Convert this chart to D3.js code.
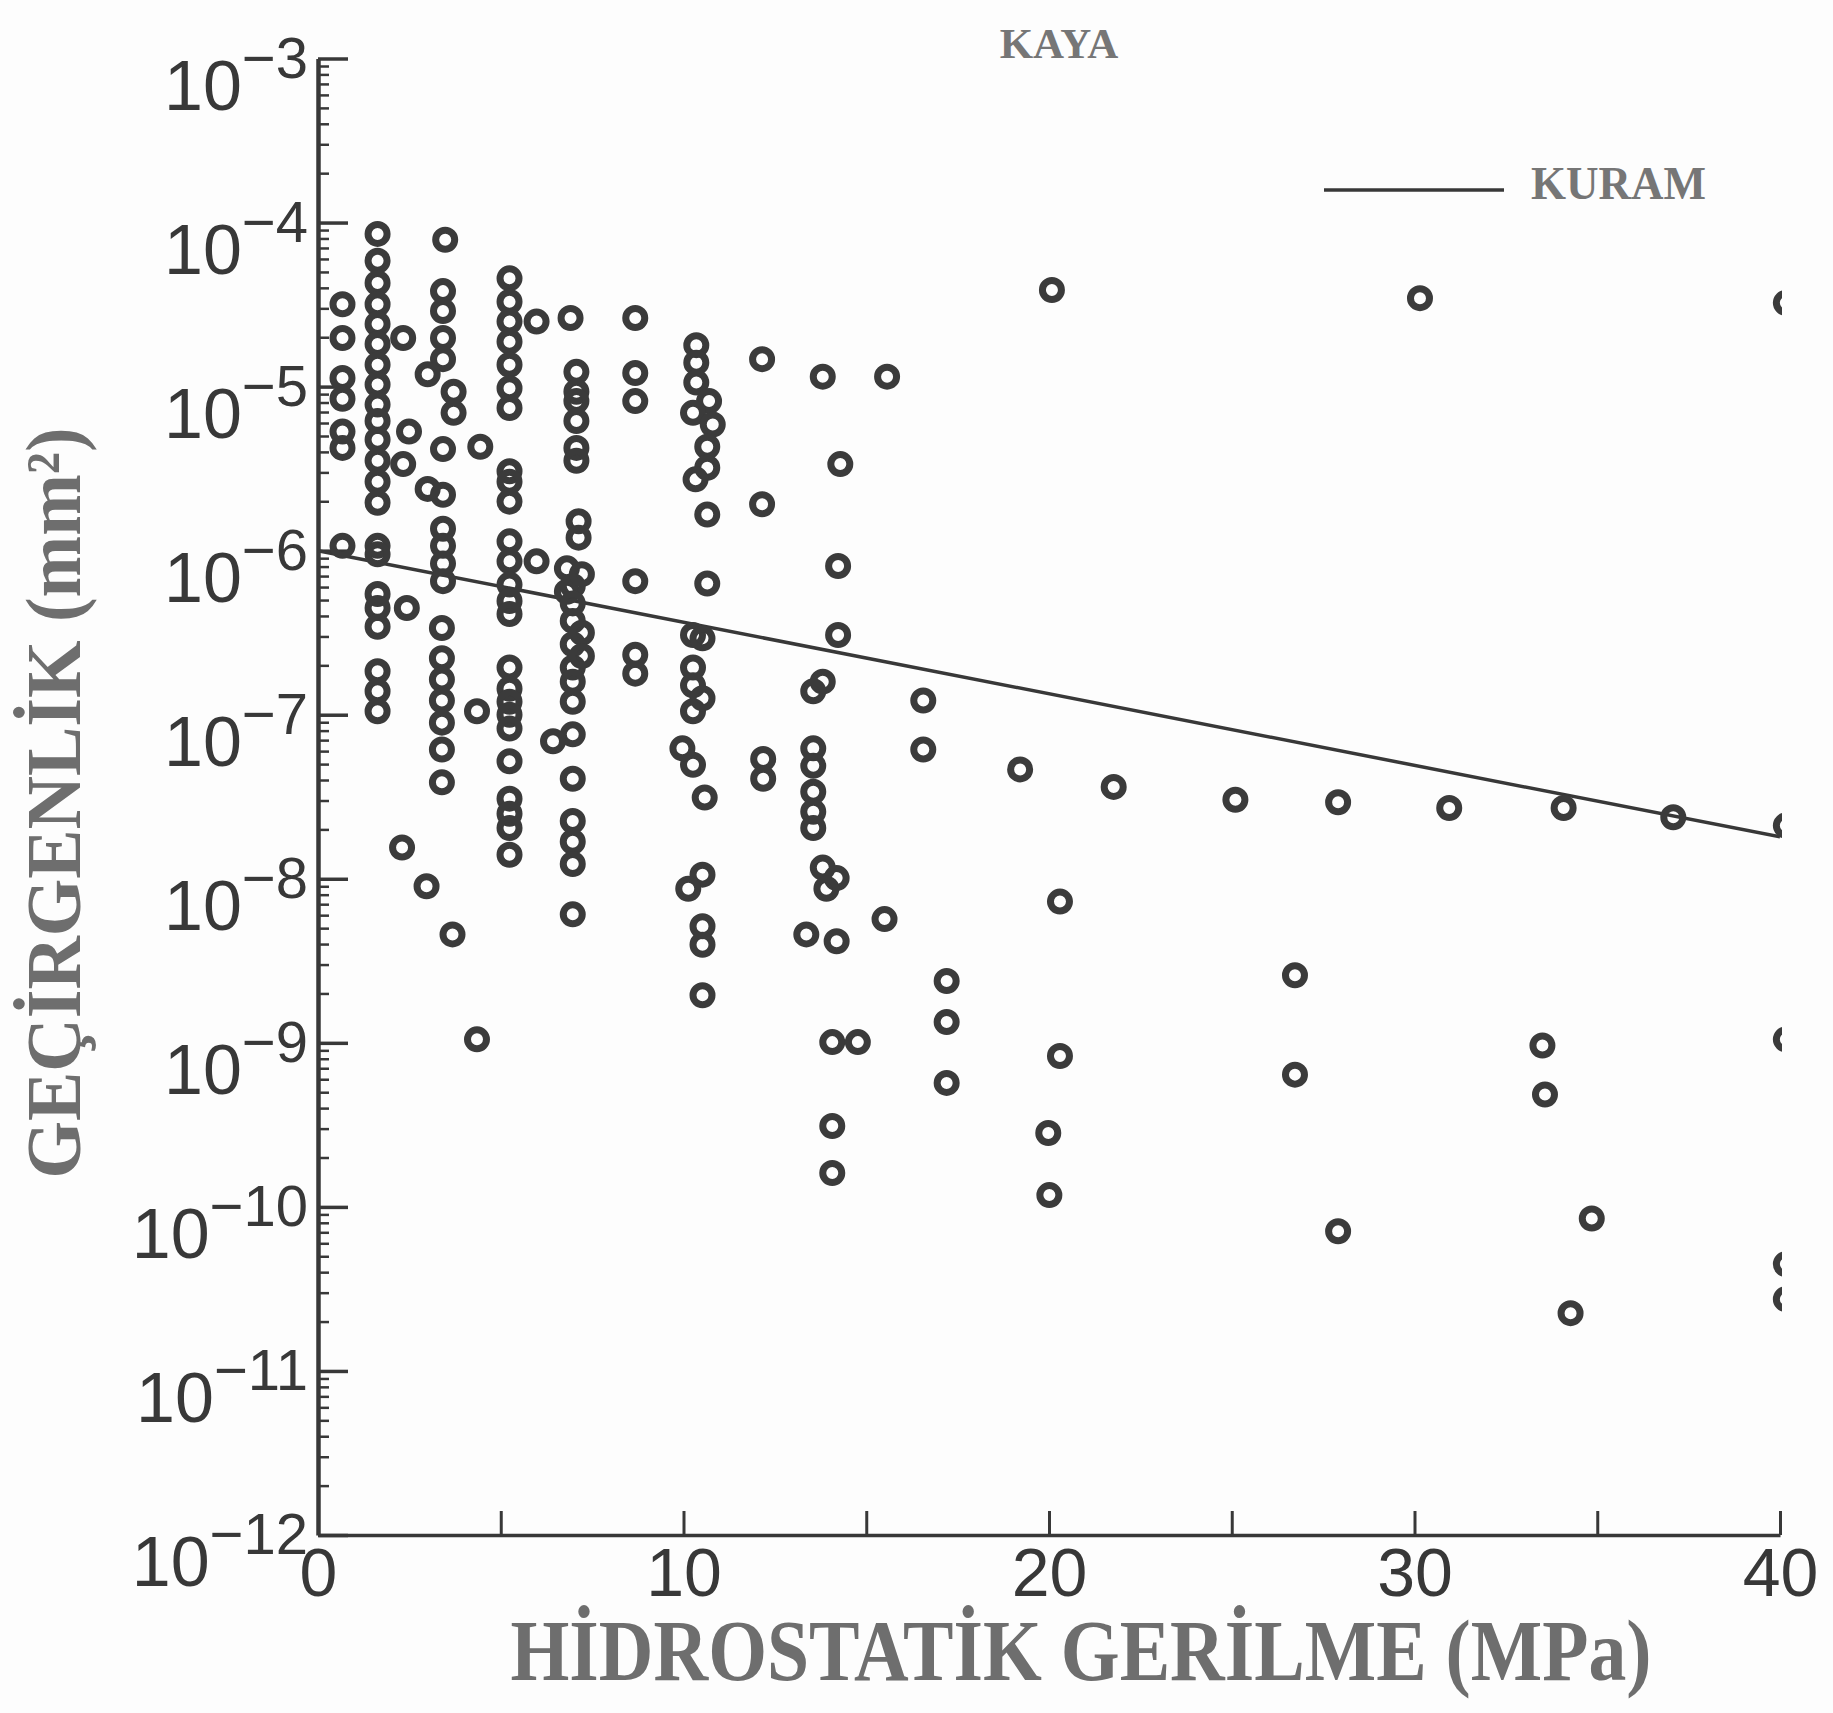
<!DOCTYPE html>
<html><head><meta charset="utf-8">
<script src="https://cdn.jsdelivr.net/npm/d3@7"></script>
<style>html,body{margin:0;padding:0;background:#fdfdfd;} svg{display:block;}</style>
</head><body>
<svg id="chart" width="1833" height="1713"></svg>
<script>
// ---------- data ----------
const titleText = "KAYA";
const legendLabel = "KURAM";
const xAxisTitle = "HİDROSTATİK GERİLME (MPa)";
const yAxisTitle = "GEÇİRGENLİK (mm²)";
const xTickMarks = [0, 5, 10, 15, 20, 25, 30, 35, 40];
const xTickLabels = [0, 10, 20, 30, 40];
const yDecadeExponents = [-3, -4, -5, -6, -7, -8, -9, -10, -11, -12];

// theory line (KURAM)
const kuramPressure = [0, 40];
const kuramPermeability = [1e-6, 1.8e-8];

// measured points, grouped by hydrostatic stress (MPa)
const groupPressure = [
  0.67, 1.63, 2.33, 2.49, 2.43, 2.30, 2.97, 3.68, 3.48, 3.42, 3.0, 3.71, 3.39,
  4.44, 4.35, 5.24, 5.98, 6.91, 7.07, 7.13, 6.81, 6.97, 6.43, 7.22, 8.68,
  10.35, 10.7, 10.26, 10.8, 10.65, 10.33, 10.52, 9.97, 10.58, 10.13,
  12.15, 12.18, 13.81, 15.57, 14.29, 14.23, 13.55, 14.19, 13.91, 13.36, 15.5, 16.56,
  14.07, 14.77, 17.2, 19.21, 20.08, 20.3, 19.98, 20.01, 21.77, 25.1, 26.73, 27.91,
  30.15, 30.95, 33.5, 33.57, 34.08, 34.27, 34.85, 37.08, 40.16
];
const groupPermeability = [
  [3.18e-5, 1.98e-5, 1.13e-5, 8.43e-6, 5.32e-6, 4.23e-6, 1.07e-6],
  [8.53e-5, 5.85e-5, 4.28e-5, 3.18e-5, 2.41e-5, 1.82e-5, 1.36e-5, 1.03e-5, 7.77e-6, 6.17e-6, 4.74e-6, 3.53e-6, 2.63e-6, 1.96e-6, 1.07e-6, 9.5e-7, 5.44e-7, 4.47e-7, 3.44e-7, 1.84e-7, 1.39e-7, 1.05e-7],
  [1.98e-5, 3.37e-6],
  [5.32e-6],
  [4.47e-7],
  [1.55e-8],
  [9.0e-9],
  [4.58e-9],
  [7.85e-5],
  [3.82e-5, 2.89e-5, 1.98e-5, 1.47e-5, 4.16e-6, 2.19e-6, 1.36e-6, 1.07e-6, 8.34e-7, 6.52e-7],
  [1.19e-5, 2.38e-6],
  [9.3e-6, 6.92e-6],
  [3.38e-7, 2.21e-7, 1.64e-7, 1.22e-7, 8.95e-8, 6.14e-8, 3.87e-8],
  [4.3e-6],
  [1.05e-7, 1.05e-9],
  [4.57e-5, 3.29e-5, 2.49e-5, 1.88e-5, 1.36e-5, 9.77e-6, 7.4e-6, 3.05e-6, 2.63e-6, 1.99e-6, 1.14e-6, 8.61e-7, 6.21e-7, 4.93e-7, 4.11e-7, 1.94e-7, 1.44e-7, 1.2e-7, 1.0e-7, 8.24e-8, 5.2e-8, 3.08e-8, 2.49e-8, 2.04e-8, 1.4e-8],
  [2.49e-5, 8.61e-7],
  [2.62e-5],
  [1.23e-5, 9.3e-6, 8.16e-6, 6.17e-6, 4.23e-6, 3.53e-6],
  [1.51e-6, 1.2e-6],
  [7.8e-7, 5.62e-7],
  [6.1e-7, 4.77e-7, 3.73e-7, 2.69e-7, 1.94e-7, 1.59e-7, 1.2e-7, 7.59e-8, 4.07e-8, 2.25e-8, 1.68e-8, 1.23e-8, 6.07e-9],
  [6.89e-8],
  [7.19e-7, 3.16e-7, 2.28e-7],
  [2.62e-5, 1.21e-5, 8.16e-6, 6.52e-7, 2.32e-7, 1.78e-7],
  [1.79e-5, 1.4e-5, 1.06e-5],
  [8.16e-6],
  [6.92e-6, 3.06e-7, 1.94e-7, 1.51e-7, 1.05e-7, 4.95e-8],
  [5.87e-6],
  [4.3e-6, 3.2e-6, 1.66e-6, 6.31e-7],
  [2.72e-6],
  [2.92e-7, 1.26e-7, 1.06e-8, 5.14e-9, 3.96e-9, 1.95e-9],
  [6.24e-8],
  [3.13e-8],
  [8.69e-9],
  [1.47e-5, 1.92e-6],
  [5.38e-8, 4.07e-8],
  [1.15e-5, 1.59e-7, 1.17e-8],
  [1.15e-5],
  [3.37e-6],
  [8.07e-7, 3.06e-7],
  [1.39e-7, 6.24e-8, 4.88e-8, 3.39e-8, 2.56e-8, 2.04e-8],
  [1.01e-8, 4.16e-9],
  [8.69e-9],
  [4.58e-9],
  [5.68e-9],
  [1.22e-7, 6.14e-8],
  [1.01e-9, 3.11e-10, 1.61e-10],
  [1.01e-9],
  [2.38e-9, 1.34e-9, 5.7e-10],
  [4.64e-8],
  [3.88e-5],
  [7.26e-9, 8.32e-10],
  [2.82e-10],
  [1.18e-10],
  [3.63e-8],
  [3.03e-8],
  [2.58e-9, 6.4e-10],
  [2.93e-8, 7.1e-11],
  [3.46e-5],
  [2.7e-8],
  [9.64e-10],
  [4.84e-10],
  [2.7e-8],
  [2.25e-11],
  [8.5e-11],
  [2.37e-8],
  [3.24e-5, 2.11e-8, 1.05e-9, 4.48e-11, 2.74e-11]
];

// ---------- drawing ----------
const svg = d3.select("#chart");
svg.append("rect").attr("width", 1833).attr("height", 1713).attr("fill", "#fdfdfd");

const x = d3.scaleLinear().domain([0, 40]).range([318, 1780]);
const y = d3.scaleLog().domain([1e-12, 1e-3]).range([1535, 58.5]);

const inkDark = "#383838";
const inkGray = "#6e6e6e";

// minor log ticks
const minorTicks = [];
yDecadeExponents.forEach(e => {
  if (e > -12) for (let m = 2; m <= 9; m++) minorTicks.push(m * Math.pow(10, e - 1));
});
const decades = yDecadeExponents.map(e => Math.pow(10, e));

const gyMinor = svg.append("g").attr("transform", `translate(${x(0)},0)`)
  .call(d3.axisLeft(y).tickValues(minorTicks).tickSize(-11).tickSizeOuter(0).tickFormat(""));
gyMinor.select(".domain").remove();
gyMinor.selectAll(".tick line").attr("stroke", inkDark).attr("stroke-width", 2.5);

const gy = svg.append("g").attr("transform", `translate(${x(0)},0)`)
  .call(d3.axisLeft(y).tickValues(decades).tickSize(-30).tickSizeOuter(0).tickFormat(""));
gy.select(".domain").attr("stroke", inkDark).attr("stroke-width", 4.5);
gy.selectAll(".tick line").attr("stroke", inkDark).attr("stroke-width", 3.5);

// y tick labels 10^-n
const yLab = svg.append("g").attr("font-family", "'Liberation Sans', Arial, sans-serif").attr("fill", inkDark);
yDecadeExponents.forEach(e => {
  const t = yLab.append("text")
    .attr("x", x(0) - 10)
    .attr("y", y(Math.pow(10, e)) + 51)
    .attr("text-anchor", "end");
  t.append("tspan").attr("font-size", 70).text("10");
  t.append("tspan").attr("font-size", 58).attr("dy", -32).text("\u2212" + Math.abs(e));
});

// x axis
const gx = svg.append("g").attr("transform", `translate(0,${y(1e-12)})`)
  .call(d3.axisBottom(x).tickValues(xTickMarks).tickSize(-24).tickSizeOuter(0).tickPadding(13)
    .tickFormat(d => xTickLabels.includes(d) ? String(d) : ""));
gx.select(".domain").attr("stroke", inkDark).attr("stroke-width", 3.5);
gx.selectAll(".tick line").attr("stroke", inkDark).attr("stroke-width", 3);
gx.selectAll(".tick text").attr("font-size", 68).attr("fill", inkDark)
  .attr("font-family", "'Liberation Sans', Arial, sans-serif");

// theory line
const line = d3.line().x(d => x(d[0])).y(d => y(d[1]));
svg.append("path")
  .datum(kuramPressure.map((p, i) => [p, kuramPermeability[i]]))
  .attr("d", line).attr("fill", "none").attr("stroke", inkDark).attr("stroke-width", 3.5);

// points
svg.append("clipPath").attr("id", "plotclip")
  .append("rect").attr("x", 0).attr("y", 0).attr("width", x(40) + 2).attr("height", 1713);
const pts = [];
groupPressure.forEach((p, i) => groupPermeability[i].forEach(k => pts.push([p, k])));
svg.append("g").attr("clip-path", "url(#plotclip)")
  .selectAll("circle").data(pts).join("circle")
  .attr("cx", d => x(d[0])).attr("cy", d => y(d[1])).attr("r", 9.5)
  .attr("fill", "none").attr("stroke", "#3b3b3b").attr("stroke-width", 7);

// title
svg.append("text").attr("x", 1059).attr("y", 58).attr("text-anchor", "middle")
  .attr("font-family", "'Liberation Serif', 'DejaVu Serif', serif").attr("font-weight", "bold")
  .attr("font-size", 43).attr("fill", "#767676").text(titleText);

// legend
svg.append("line").attr("x1", 1324).attr("x2", 1504).attr("y1", 190).attr("y2", 190)
  .attr("stroke", inkDark).attr("stroke-width", 3.5);
svg.append("text").attr("x", 1531).attr("y", 199)
  .attr("font-family", "'Liberation Serif', 'DejaVu Serif', serif").attr("font-weight", "bold")
  .attr("font-size", 46).attr("fill", "#767676")
  .attr("textLength", 175).attr("lengthAdjust", "spacingAndGlyphs").text(legendLabel);

// axis titles
svg.append("text").attr("x", 1081).attr("y", 1680).attr("text-anchor", "middle")
  .attr("font-family", "'Liberation Serif', 'DejaVu Serif', serif").attr("font-weight", "bold")
  .attr("font-size", 86).attr("fill", inkGray)
  .attr("textLength", 1141).attr("lengthAdjust", "spacingAndGlyphs").text(xAxisTitle);

svg.append("text").attr("transform", "translate(80,803) rotate(-90)").attr("text-anchor", "middle")
  .attr("font-family", "'Liberation Serif', 'DejaVu Serif', serif").attr("font-weight", "bold")
  .attr("font-size", 78).attr("fill", inkGray)
  .attr("textLength", 751).attr("lengthAdjust", "spacingAndGlyphs").text(yAxisTitle);
</script>
</body></html>
